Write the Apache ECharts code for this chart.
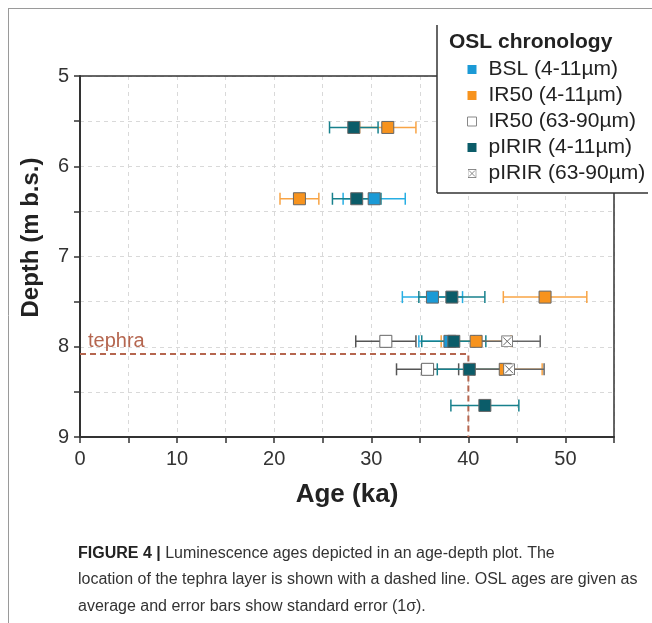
<!DOCTYPE html>
<html><head><meta charset="utf-8">
<script src="https://cdn.jsdelivr.net/npm/echarts@6/dist/echarts.min.js"></script>
<style>html,body{margin:0;padding:0;background:#fff}#c{width:652px;height:623px}</style>
</head><body><div id="c"></div>
<script>
// ---- data ----
const bslAge = [30.3, 36.3, 38.1];
const bslDepth = [6.36, 7.45, 7.94];
const bslErr = [3.2, 3.1, 3.2];

const ir50fAge = [31.7, 22.6, 47.9, 40.8, 43.8];
const ir50fDepth = [5.57, 6.36, 7.45, 7.94, 8.25];
const ir50fErr = [2.9, 2.0, 4.3, 3.6, 3.8];

const ir50cAge = [31.5, 35.8];
const ir50cDepth = [7.94, 8.25];
const ir50cErr = [3.1, 3.2];

const pirFAge = [28.2, 28.5, 38.3, 38.5, 40.1, 41.7];
const pirFDepth = [5.57, 6.36, 7.45, 7.94, 8.25, 8.65];
const pirFErr = [2.5, 2.5, 3.4, 3.3, 3.3, 3.5];

const pirCAge = [44.0, 44.2];
const pirCDepth = [7.94, 8.25];
const pirCErr = [3.4, 3.6];

const tephraAge = 40;
const tephraDepth = 8.08;

const seriesNames = ['BSL (4-11µm)', 'IR50 (4-11µm)', 'IR50 (63-90µm)', 'pIRIR (4-11µm)', 'pIRIR (63-90µm)'];
const captionLines = [
  'Luminescence ages depicted in an age-depth plot. The',
  'location of the tephra layer is shown with a dashed line. OSL ages are given as',
  'average and error bars show standard error (1σ).'
];

// ---- build ----
const FONT = 'Liberation Sans, Arial, sans-serif';
const crossSvg = "<svg xmlns='http://www.w3.org/2000/svg' width='24' height='24'><rect x='1' y='1' width='22' height='22' fill='white' stroke='#666' stroke-width='2'/><path d='M4 4L20 20M20 4L4 20' stroke='#666' stroke-width='2'/></svg>";
const crossIcon = 'image://data:image/svg+xml;charset=utf-8,' + encodeURIComponent(crossSvg);

const groups = [
  {name: seriesNames[0], age: bslAge, depth: bslDepth, err: bslErr, fill: '#1b9ad6', bar: '#27aee3'},
  {name: seriesNames[1], age: ir50fAge, depth: ir50fDepth, err: ir50fErr, fill: '#f7931e', bar: '#f8a445'},
  {name: seriesNames[2], age: ir50cAge, depth: ir50cDepth, err: ir50cErr, fill: '#ffffff', bar: '#555555'},
  {name: seriesNames[3], age: pirFAge, depth: pirFDepth, err: pirFErr, fill: '#0b5c69', bar: '#17808c'},
  {name: seriesNames[4], age: pirCAge, depth: pirCDepth, err: pirCErr, fill: '#ffffff', bar: '#666666', icon: crossIcon}
];

const series = [];
groups.forEach(g => {
  series.push({
    type: 'custom', name: g.name + '_err', z: 3, silent: true,
    data: g.age.map((a, i) => [a, g.depth[i], a - g.err[i], a + g.err[i]]),
    renderItem: function (params, api) {
      const y = api.value(1);
      const p1 = api.coord([api.value(2), y]);
      const p2 = api.coord([api.value(3), y]);
      const h = 6;
      const st = {stroke: g.bar, lineWidth: 1.5};
      return {type: 'group', children: [
        {type: 'line', shape: {x1: p1[0], y1: p1[1], x2: p2[0], y2: p2[1]}, style: st},
        {type: 'line', shape: {x1: p1[0], y1: p1[1] - h, x2: p1[0], y2: p1[1] + h}, style: st},
        {type: 'line', shape: {x1: p2[0], y1: p2[1] - h, x2: p2[0], y2: p2[1] + h}, style: st}
      ]};
    }
  });
});
groups.forEach(g => {
  series.push({
    type: 'scatter', name: g.name, z: 5,
    symbol: g.icon || 'rect', symbolSize: 12,
    itemStyle: {color: g.fill, borderColor: '#666', borderWidth: 1, opacity: 1},
    data: g.age.map((a, i) => [a, g.depth[i]])
  });
});
series.push({
  type: 'line', name: 'tephra', z: 2, silent: true, symbol: 'none',
  lineStyle: {color: '#b5664f', width: 2, type: [6, 4]},
  data: [[0, tephraDepth], [tephraAge, tephraDepth], [tephraAge, 9]]
});

const legendData = groups.map(g => ({
  name: g.name,
  icon: g.icon || 'rect',
  itemStyle: g.fill === '#ffffff' && !g.icon
    ? {color: '#fff', borderColor: '#888', borderWidth: 1, opacity: 1}
    : {color: g.fill, borderWidth: 0, opacity: 1}
}));

const chart = echarts.init(document.getElementById('c'));
const option = {
  animation: false,
  backgroundColor: '#fff',
  grid: {left: 80, top: 76, right: 38, bottom: 186},
  xAxis: {
    type: 'value', min: 0, max: 55, interval: 5,
    name: 'Age (ka)', nameLocation: 'middle', nameGap: 45,
    nameTextStyle: {fontFamily: FONT, fontSize: 26, fontWeight: 'bold', color: '#222'},
    axisLine: {onZero: false, lineStyle: {color: '#333', width: 2}},
    axisTick: {length: 6, lineStyle: {color: '#333', width: 1.5}},
    axisLabel: {fontFamily: FONT, fontSize: 20, color: '#333', margin: 12,
      formatter: v => (v % 10 === 0 ? String(v) : '')},
    splitLine: {show: true, lineStyle: {color: '#d9d9d9', type: [4, 4], width: 1}}
  },
  yAxis: {
    type: 'value', min: 5, max: 9, interval: 0.5, inverse: true,
    name: 'Depth (m b.s.)', nameLocation: 'middle', nameGap: 37,
    nameTextStyle: {fontFamily: FONT, fontSize: 24, fontWeight: 'bold', color: '#222', padding: [0, 0, 0, 38]},
    axisLine: {onZero: false, lineStyle: {color: '#333', width: 2}},
    axisTick: {length: 6, lineStyle: {color: '#333', width: 1.5}},
    axisLabel: {fontFamily: FONT, fontSize: 20, color: '#333', margin: 11,
      formatter: v => (Math.abs(v - Math.round(v)) < 1e-6 ? String(Math.round(v)) : '')},
    splitLine: {show: true, lineStyle: {color: '#d9d9d9', type: [4, 4], width: 1}}
  },
  legend: {
    show: true, orient: 'vertical', left: 462, top: 53, itemGap: 3,
    itemWidth: 9, itemHeight: 9, z: 20,
    data: legendData,
    textStyle: {fontFamily: FONT, fontSize: 21, color: '#222', padding: [0, 0, 0, 7], lineHeight: 23}
  },
  series: series
};
chart.setOption(option);

const tp = chart.convertToPixel({gridIndex: 0}, [0, tephraDepth]);
const tl = chart.convertToPixel({gridIndex: 0}, [0, 5]);
const br = chart.convertToPixel({gridIndex: 0}, [55, 9]);
chart.setOption({
  graphic: [
    {type: 'line', z: 10, shape: {x1: tl[0], y1: tl[1], x2: br[0], y2: tl[1]}, style: {stroke: '#333', lineWidth: 1.5}},
    {type: 'line', z: 10, shape: {x1: br[0], y1: tl[1], x2: br[0], y2: br[1]}, style: {stroke: '#333', lineWidth: 1.5}},
    {type: 'line', z: 10, shape: {x1: 8, y1: 8.5, x2: 652, y2: 8.5}, style: {stroke: '#9a9a9a', lineWidth: 1}},
    {type: 'line', z: 10, shape: {x1: 8.5, y1: 8, x2: 8.5, y2: 623}, style: {stroke: '#9a9a9a', lineWidth: 1}},
    {type: 'rect', z: 15, shape: {x: 437, y: 25, width: 230, height: 168}, style: {fill: '#fff'}},
    {type: 'line', z: 16, shape: {x1: 437, y1: 25, x2: 437, y2: 193}, style: {stroke: '#333', lineWidth: 1.5}},
    {type: 'line', z: 16, shape: {x1: 437, y1: 193, x2: 648, y2: 193}, style: {stroke: '#333', lineWidth: 1.5}},
    {type: 'text', z: 17, x: 449, y: 32, style: {text: 'OSL chronology', fontFamily: FONT, fontSize: 21, fontWeight: 'bold', fill: '#222'}},
    {type: 'text', z: 12, x: tp[0] + 8, y: tp[1] - 2, style: {text: 'tephra', fontFamily: FONT, fontSize: 20, fill: '#b5664f', verticalAlign: 'bottom'}},
    {type: 'text', z: 12, x: 78, y: 540, style: {
      text: '{b|FIGURE 4 |} ' + captionLines[0] + '\n' + captionLines[1] + '\n' + captionLines[2],
      fontFamily: FONT, fontSize: 16, fill: '#333', lineHeight: 26.5,
      rich: {b: {fontFamily: FONT, fontSize: 16, fontWeight: 'bold', fill: '#222', lineHeight: 26.5}}
    }}
  ]
});
</script></body></html>
